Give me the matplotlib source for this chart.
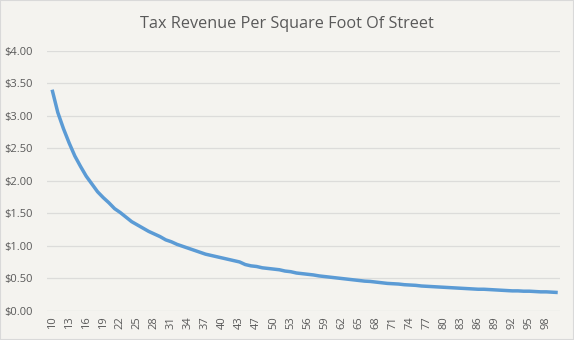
import matplotlib
matplotlib.use("Agg")
import matplotlib.pyplot as plt
from matplotlib.ticker import FuncFormatter, MultipleLocator
from matplotlib.patches import Rectangle

title = "Tax Revenue Per Square Foot Of Street"

categories = list(range(10, 45)) + list(range(46, 101))

revenue = [
    3.40, 3.05, 2.80, 2.58, 2.38, 2.22, 2.07, 1.95, 1.83, 1.74,
    1.66, 1.57, 1.51, 1.44, 1.37, 1.32, 1.27, 1.22, 1.18, 1.14,
    1.09, 1.06, 1.02, 0.99, 0.96, 0.93, 0.90, 0.87, 0.85, 0.83,
    0.81, 0.79, 0.77, 0.75, 0.71, 0.69, 0.68, 0.66, 0.65, 0.64,
    0.63, 0.61, 0.60, 0.58, 0.57, 0.56, 0.55, 0.535, 0.525, 0.515,
    0.505, 0.495, 0.485, 0.475, 0.465, 0.455, 0.45, 0.44, 0.43, 0.42,
    0.415, 0.41, 0.40, 0.395, 0.39, 0.38, 0.375, 0.37, 0.365, 0.36,
    0.355, 0.35, 0.345, 0.34, 0.335, 0.33, 0.33, 0.325, 0.32, 0.315,
    0.31, 0.305, 0.305, 0.30, 0.30, 0.295, 0.29, 0.29, 0.285, 0.28,
]

bg = "#F4F3EF"
text_color = "#595959"
line_color = "#5B9BD5"
grid_color = "#DCDCDA"

W, H = 574, 340
fig = plt.figure(figsize=(W / 100, H / 100), dpi=100)
fig.patch.set_facecolor(bg)
fig.patches.append(Rectangle((0, 0), 1, 1, transform=fig.transFigure,
                             fill=False, edgecolor="#D9D9D9", linewidth=1.5))

left, right, top, bottom = 47, 560, 50.7, 310.7
ax = fig.add_axes([left / W, 1 - bottom / H, (right - left) / W, (bottom - top) / H])
ax.set_facecolor(bg)

xs = list(range(len(categories)))
ax.plot(xs, revenue, color=line_color, linewidth=2.5, solid_capstyle="butt", zorder=3)

ax.set_ylim(0, 4)
ax.yaxis.set_major_locator(MultipleLocator(0.5))
ax.yaxis.set_major_formatter(FuncFormatter(lambda v, p: f"${v:.2f}"))
ax.set_xlim(-0.9, len(categories) - 0.6)
tick_idx = list(range(0, len(categories), 3))
ax.set_xticks(tick_idx)
ax.set_xticklabels([str(categories[i]) for i in tick_idx], rotation=90)

ax.grid(axis="y", color=grid_color, linewidth=0.9)
ax.set_axisbelow(True)
for s in ax.spines.values():
    s.set_visible(False)
ax.tick_params(axis="both", length=0, labelsize=8, labelcolor=text_color)
ax.tick_params(axis="y", pad=10.5)
ax.tick_params(axis="x", pad=4)
for lbl in ax.get_yticklabels() + ax.get_xticklabels():
    lbl.set_fontfamily("Open Sans")

fig.text(287 / W, 1 - 24 / H, title, ha="center", va="center",
         fontsize=11.7, color=text_color, family="Open Sans")

fig.savefig("out.png", dpi=100, facecolor=bg)
